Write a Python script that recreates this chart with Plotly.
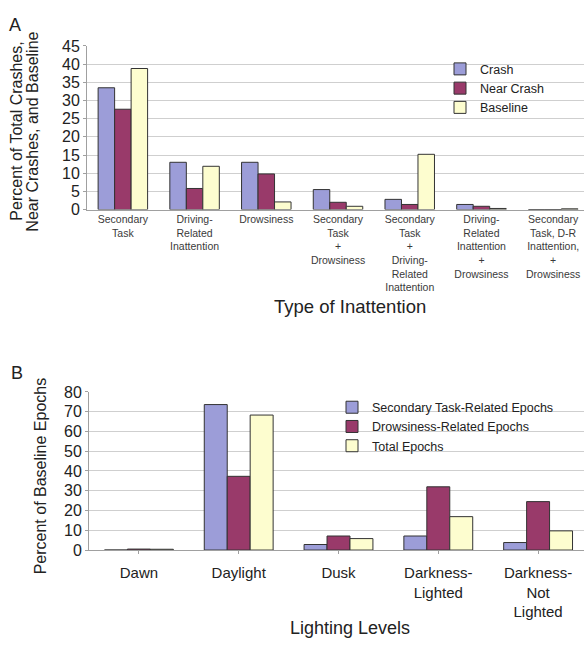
import plotly.graph_objects as go

# Panel A: type of inattention
inatt_categories = [
    "Secondary<br>Task",
    "Driving-<br>Related<br>Inattention",
    "Drowsiness",
    "Secondary<br>Task<br>+<br>Drowsiness",
    "Secondary<br>Task<br>+<br>Driving-<br>Related<br>Inattention",
    "Driving-<br>Related<br>Inattention<br>+<br>Drowsiness",
    "Secondary<br>Task, D-R<br>Inattention,<br>+<br>Drowsiness",
]
crash = [33.5, 13.0, 13.0, 5.5, 2.8, 1.4, 0.0]
near_crash = [27.6, 5.8, 9.8, 2.0, 1.4, 0.9, 0.0]
baseline = [38.8, 11.9, 2.1, 0.9, 15.2, 0.3, 0.2]

# Panel B: lighting levels
light_categories = ["Dawn", "Daylight", "Dusk", "Darkness-<br>Lighted",
                    "Darkness-<br>Not<br>Lighted"]
secondary_epochs = [0.0, 73.6, 2.8, 7.1, 3.8]
drowsy_epochs = [0.5, 37.3, 7.1, 32.0, 24.5]
total_epochs = [0.4, 68.3, 5.8, 16.9, 9.7]

BLUE = "#9c9dd8"
MAROON = "#993a6a"
CREAM = "#fdfdcf"
EDGE = "#333333"
FONT = "Liberation Sans, Arial, sans-serif"

W, H = 584, 646


def py(y):
    """pixel row -> paper fraction"""
    return (H - y) / H


def px(x):
    """pixel column -> paper fraction"""
    return x / W


fig = go.Figure()

for name, vals, col in [("Crash", crash, BLUE), ("Near Crash", near_crash, MAROON),
                        ("Baseline", baseline, CREAM)]:
    fig.add_trace(go.Bar(x=list(range(len(inatt_categories))), y=vals, name=name,
                         marker=dict(color=col, line=dict(color=EDGE, width=1)),
                         xaxis="x", yaxis="y", legend="legend"))

for name, vals, col in [("Secondary Task-Related Epochs", secondary_epochs, BLUE),
                        ("Drowsiness-Related Epochs", drowsy_epochs, MAROON),
                        ("Total Epochs", total_epochs, CREAM)]:
    fig.add_trace(go.Bar(x=list(range(len(light_categories))), y=vals, name=name,
                         marker=dict(color=col, line=dict(color=EDGE, width=1)),
                         xaxis="x2", yaxis="y2", legend="legend2"))

grid = "#cfcfcf"
axis_line = "#a0a0a0"

fig.update_layout(
    width=W, height=H,
    margin=dict(l=0, r=0, t=0, b=0),
    paper_bgcolor="white", plot_bgcolor="white",
    font=dict(family=FONT, color="#222"),
    barmode="group", bargap=0.31, bargroupgap=0,
    showlegend=True,
    xaxis=dict(domain=[px(87), 1.0], anchor="y", range=[-0.5, 6.43],
               tickmode="array", tickvals=list(range(len(inatt_categories))),
               ticktext=inatt_categories, showgrid=False, showline=True,
               linecolor=axis_line, ticks="", zeroline=False,
               tickfont=dict(size=10.5, color="#3a3a3a")),
    yaxis=dict(domain=[py(207), py(39)], anchor="x", range=[0, 45], dtick=5,
               showgrid=True, gridcolor=grid, showline=True, linecolor=axis_line,
               ticks="outside", ticklen=3, tickcolor=axis_line, zeroline=False,
               tickfont=dict(size=16, color="#222")),
    xaxis2=dict(domain=[px(89), 1.0], anchor="y2", range=[-0.5, 4.46],
                tickmode="array", tickvals=list(range(len(light_categories))),
                ticktext=light_categories, showgrid=False, showline=True,
                linecolor=axis_line, ticks="outside", ticklen=3, tickcolor=axis_line,
                tickson="boundaries", zeroline=False, ticklabelstandoff=6,
                tickfont=dict(size=15, color="#222")),
    yaxis2=dict(domain=[py(556.7), py(394.3)], anchor="x2", range=[0, 80], dtick=10,
                showgrid=True, gridcolor=grid, showline=True, linecolor=axis_line,
                ticks="outside", ticklen=3, tickcolor=axis_line, zeroline=False,
                tickfont=dict(size=16, color="#222")),
    legend=dict(x=px(440), y=py(47.5), xanchor="left", yanchor="top",
                bgcolor="rgba(0,0,0,0)", font=dict(size=12.5, color="#222"),
                tracegroupgap=0, itemwidth=30),
    legend2=dict(x=px(332), y=py(395), xanchor="left", yanchor="top",
                 bgcolor="rgba(0,0,0,0)", font=dict(size=12.5, color="#222"),
                 tracegroupgap=0, itemwidth=30),
    # white panels behind the legends, masking the gridlines there
    shapes=[
        dict(type="rect", xref="paper", yref="paper", layer="between",
             x0=px(461), x1=px(560), y0=py(112), y1=py(60),
             fillcolor="white", line=dict(width=0)),
        dict(type="rect", xref="paper", yref="paper", layer="between",
             x0=px(348), x1=px(576), y0=py(456), y1=py(398),
             fillcolor="white", line=dict(width=0)),
    ],
)

annotations = [
    dict(text="A", x=px(15), y=py(17), font=dict(size=18)),
    dict(text="B", x=px(17), y=py(375), font=dict(size=18)),
    dict(text="Percent of Total Crashes,", x=px(17), y=py(127), textangle=-90,
         font=dict(size=16)),
    dict(text="Near Crashes, and Baseline", x=px(33), y=py(127), textangle=-90,
         font=dict(size=16)),
    dict(text="Type of Inattention", x=px(350), y=py(307), font=dict(size=18.5)),
    dict(text="Percent of Baseline Epochs", x=px(40), y=py(481), textangle=-90,
         font=dict(size=16)),
    dict(text="Lighting Levels", x=px(350), y=py(637), font=dict(size=18)),
]
for a in annotations:
    a.update(xref="paper", yref="paper", showarrow=False,
             xanchor="center", yanchor="middle")
fig.update_layout(annotations=annotations)

fig.write_html("out.html")
